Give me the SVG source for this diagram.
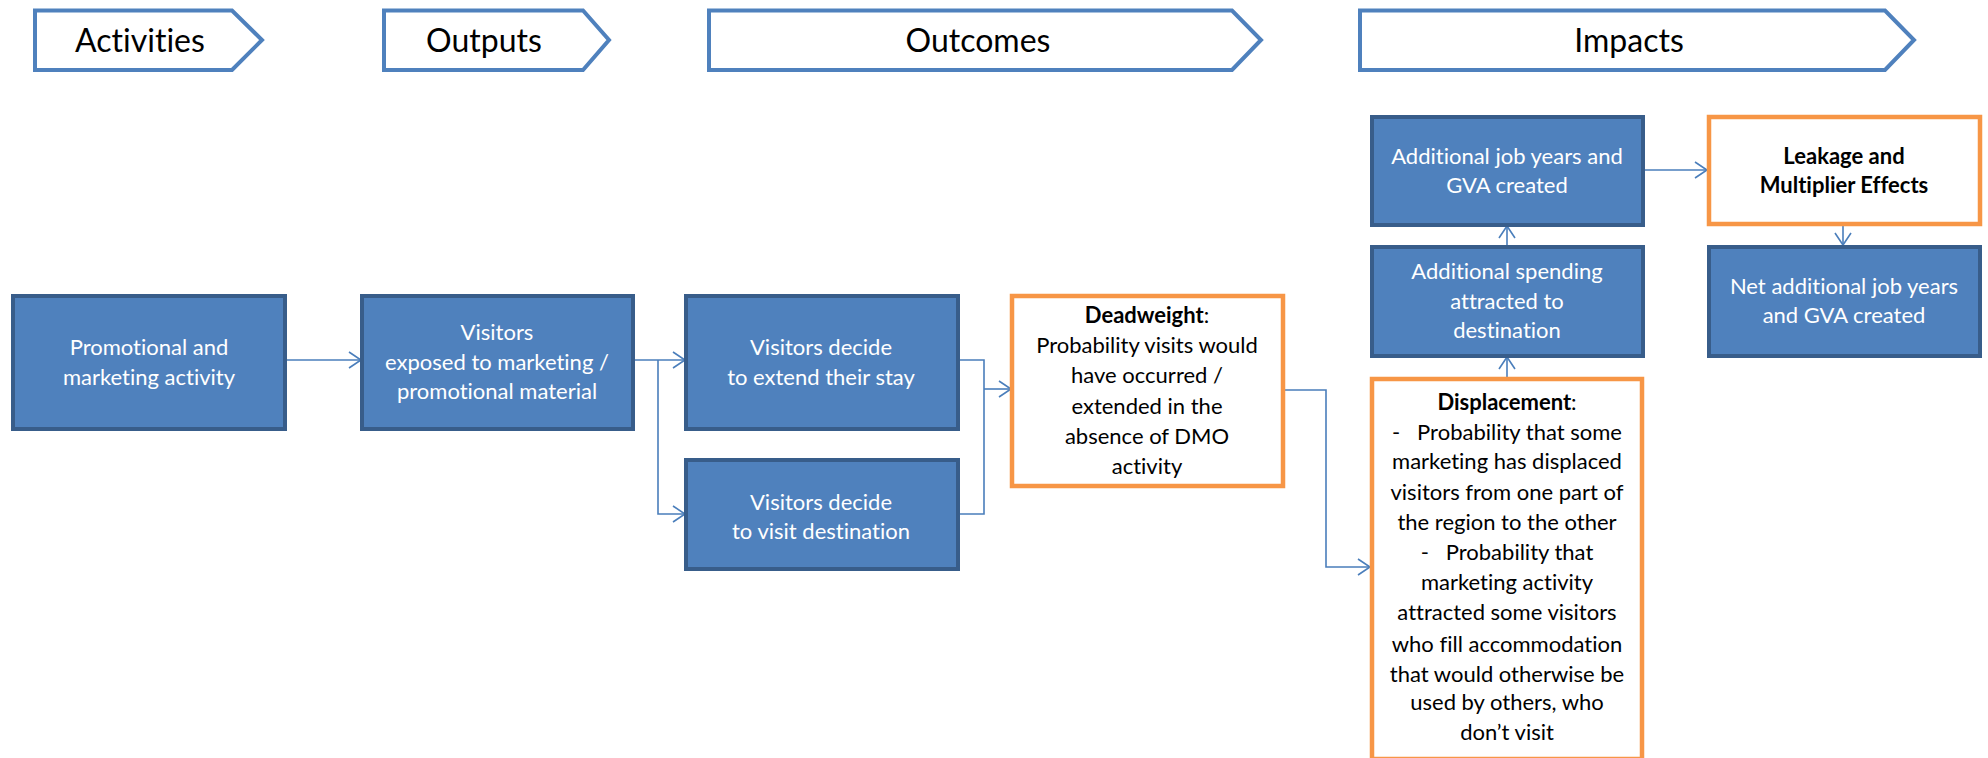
<svg xmlns="http://www.w3.org/2000/svg" width="1988" height="758" viewBox="0 0 1988 758">
  <style>
    text { font-variant-ligatures: none; }
    .hdr { fill: #ffffff; stroke: #4f81bd; stroke-width: 4; stroke-linejoin: miter; }
    .hdr-t { font-family: Lato, "Liberation Sans", sans-serif; font-size: 32px; fill: #000000; text-anchor: middle; }
    .blue { fill: #4f81bd; stroke: #385d8a; stroke-width: 4; }
    .orange { fill: #ffffff; stroke: #f79646; stroke-width: 4.5; }
    .wt { font-family: Lato, "Liberation Sans", sans-serif; font-size: 22px; fill: #ffffff; text-anchor: middle; }
    .bt { font-family: Lato, "Liberation Sans", sans-serif; font-size: 22px; fill: #000000; text-anchor: middle; }
    .b { font-weight: bold; }
    .conn { fill: none; stroke: #4a7ebb; stroke-width: 1.6; }
  </style>
  <defs>
    <marker id="arrow" markerUnits="userSpaceOnUse" markerWidth="16" markerHeight="20" refX="13" refY="9" orient="auto">
      <path d="M1 1 L13 9 L1 17" fill="none" stroke="#4a7ebb" stroke-width="1.6"/>
    </marker>
  </defs>

  <!-- stage headers -->
  <g id="hdr-activities">
    <polygon class="hdr" points="35,10.5 232,10.5 262,40 232,70 35,70"/>
    <text class="hdr-t" x="140" y="52">Activities</text>
  </g>
  <g id="hdr-outputs">
    <polygon class="hdr" points="384,10.5 583,10.5 609,40 583,70 384,70"/>
    <text class="hdr-t" x="484" y="52">Outputs</text>
  </g>
  <g id="hdr-outcomes">
    <polygon class="hdr" points="709,10.5 1232,10.5 1261,40 1232,70 709,70"/>
    <text class="hdr-t" x="978" y="52">Outcomes</text>
  </g>
  <g id="hdr-impacts">
    <polygon class="hdr" points="1360,10.5 1885,10.5 1914,40 1885,70 1360,70"/>
    <text class="hdr-t" x="1629" y="52">Impacts</text>
  </g>

  <!-- connectors -->
  <g id="connectors">
    <path class="conn" d="M285 360 H361" marker-end="url(#arrow)"/>
    <path class="conn" d="M633 360 H685" marker-end="url(#arrow)"/>
    <path class="conn" d="M658 360 V514 H685" marker-end="url(#arrow)"/>
    <path class="conn" d="M958 360 H984 V514 H958"/>
    <path class="conn" d="M984 389 H1011" marker-end="url(#arrow)"/>
    <path class="conn" d="M1283 390 H1326 V567 H1370" marker-end="url(#arrow)"/>
    <path class="conn" d="M1507 377 V357" marker-end="url(#arrow)"/>
    <path class="conn" d="M1507 246 V226" marker-end="url(#arrow)"/>
    <path class="conn" d="M1643 170 H1707" marker-end="url(#arrow)"/>
    <path class="conn" d="M1843 225 V245" marker-end="url(#arrow)"/>
  </g>

  <!-- nodes -->
  <g id="promo">
    <rect class="blue" x="13" y="296" width="272" height="133"/>
    <text class="wt" x="149" y="355">Promotional and</text>
    <text class="wt" x="149" y="385">marketing activity</text>
  </g>
  <g id="exposed">
    <rect class="blue" x="362" y="296" width="271" height="133"/>
    <text class="wt" x="497" y="340">Visitors</text>
    <text class="wt" x="497" y="370">exposed to marketing /</text>
    <text class="wt" x="497" y="399">promotional material</text>
  </g>
  <g id="extend">
    <rect class="blue" x="686" y="296" width="272" height="133"/>
    <text class="wt" x="821" y="355">Visitors decide</text>
    <text class="wt" x="821" y="385">to extend their stay</text>
  </g>
  <g id="visit">
    <rect class="blue" x="686" y="460" width="272" height="109"/>
    <text class="wt" x="821" y="510">Visitors decide</text>
    <text class="wt" x="821" y="539">to visit destination</text>
  </g>
  <g id="deadweight">
    <rect class="orange" x="1012" y="296" width="271" height="190"/>
    <text class="bt" x="1147" y="323"><tspan class="b">Deadweight</tspan>:</text>
    <text class="bt" x="1147" y="353">Probability visits would</text>
    <text class="bt" x="1147" y="383">have occurred /</text>
    <text class="bt" x="1147" y="414">extended in the</text>
    <text class="bt" x="1147" y="444">absence of DMO</text>
    <text class="bt" x="1147" y="474">activity</text>
  </g>
  <g id="displacement">
    <rect class="orange" x="1372" y="379" width="270" height="380"/>
    <text class="bt" x="1507" y="410"><tspan class="b">Displacement</tspan>:</text>
    <text class="bt" x="1507" y="440" xml:space="preserve">-   Probability that some</text>
    <text class="bt" x="1507" y="469">marketing has displaced</text>
    <text class="bt" x="1507" y="500">visitors from one part of</text>
    <text class="bt" x="1507" y="530">the region to the other</text>
    <text class="bt" x="1507" y="560" xml:space="preserve">-   Probability that</text>
    <text class="bt" x="1507" y="590">marketing activity</text>
    <text class="bt" x="1507" y="620">attracted some visitors</text>
    <text class="bt" x="1507" y="652">who fill accommodation</text>
    <text class="bt" x="1507" y="682">that would otherwise be</text>
    <text class="bt" x="1507" y="710">used by others, who</text>
    <text class="bt" x="1507" y="740">don’t visit</text>
  </g>
  <g id="spending">
    <rect class="blue" x="1372" y="247" width="271" height="109"/>
    <text class="wt" x="1507" y="279">Additional spending</text>
    <text class="wt" x="1507" y="309">attracted to</text>
    <text class="wt" x="1507" y="338">destination</text>
  </g>
  <g id="jobs">
    <rect class="blue" x="1372" y="117" width="271" height="108"/>
    <text class="wt" x="1507" y="164">Additional job years and</text>
    <text class="wt" x="1507" y="193">GVA created</text>
  </g>
  <g id="leakage">
    <rect class="orange" x="1709" y="117" width="271" height="107"/>
    <text class="bt b" x="1844" y="164">Leakage and</text>
    <text class="bt b" x="1844" y="193">Multiplier Effects</text>
  </g>
  <g id="net">
    <rect class="blue" x="1709" y="247" width="271" height="109"/>
    <text class="wt" x="1844" y="294">Net additional job years</text>
    <text class="wt" x="1844" y="323">and GVA created</text>
  </g>
</svg>
